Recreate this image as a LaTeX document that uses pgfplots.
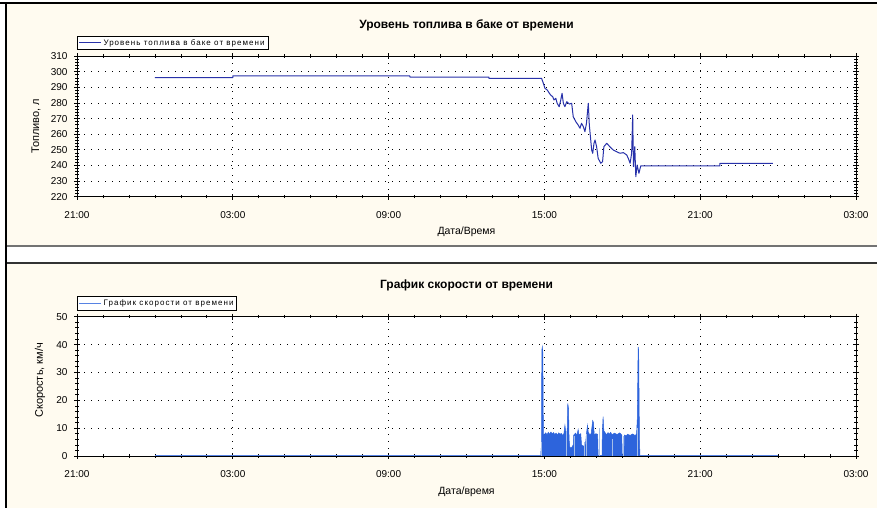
\documentclass[border=0pt]{standalone}
\usepackage{pgfplots}
\pgfplotsset{compat=1.18}
\usepackage{fontspec}
\setmainfont{Liberation Sans}
\newfontfamily\legfont[LetterSpace=13]{Liberation Sans}
\definecolor{cream}{RGB}{255,251,240}
\definecolor{fuelblue}{RGB}{40,50,170}
\definecolor{speedblue}{RGB}{45,100,220}
\definecolor{lightsp}{RGB}{165,190,232}
\pgfplotsset{chartstyle/.style={
  scale only axis, width=779pt,
  xmin=0, xmax=30, xtick={0,6,...,30},
  xticklabels={21:00,03:00,09:00,15:00,21:00,03:00},
  minor x tick num=5,
  axis background/.style={fill=white},
  grid=major,
  major grid style={black, dash pattern=on 0.8pt off 6.2pt, line width=0.7pt},
  tick align=center, major tick length=6pt, minor tick length=3.5pt,
  every tick/.style={black, line width=0.7pt},
  axis line style={black, line width=0.9pt},
  ticklabel style={font=\fontsize{10}{10}\selectfont},
  /pgf/number format/assume math mode=true,
  xticklabel shift=8pt, yticklabel shift=3pt,
  xlabel style={font=\fontsize{10.5}{12}\selectfont, at={(axis description cs:0.5,0)}, anchor=center, yshift=-35.5pt},
  ylabel style={font=\fontsize{11}{12}\selectfont, at={(axis description cs:0,0.5)}, anchor=center},
  title style={font=\bfseries\fontsize{12}{14}\selectfont, at={(axis description cs:0.5,1)}, anchor=center, yshift=25pt},
  legend style={at={(axis description cs:0,1)}, anchor=south west, yshift=6pt, draw=black, line width=0.6pt,
    font=\legfont\fontsize{8}{8}\selectfont, inner sep=1.2pt, cells={anchor=west}},
  legend image code/.code={\draw[#1] (0pt,0pt) -- (22pt,0pt);},
}}
\begin{document}
\begin{tikzpicture}[x=1pt,y=1pt]
\useasboundingbox (0pt,0pt) rectangle (877pt,508pt);
\fill[white] (0pt,0pt) rectangle (877pt,508pt);
\fill[cream] (6pt,263pt) rectangle (877pt,504pt);
\fill[cream] (6pt,0pt) rectangle (877pt,244pt);
\draw[black, line width=2.5] (0pt,505pt) -- (877pt,505pt);
\draw[black!55, line width=2] (6pt,262pt) -- (877pt,262pt);
\draw[black!80, line width=1.4] (6pt,245pt) -- (877pt,245pt);
\draw[black, line width=1.5] (6pt,0pt) -- (6pt,506pt);

\begin{axis}[chartstyle, at={(77pt,311.3pt)}, anchor=south west, height=140.6pt,
  ymin=220, ymax=310, ytick={220,230,...,310}, minor y tick num=4,
  title={Уровень топлива в баке от времени},
  xlabel={Дата/Время}, ylabel={Топливо, л},
  ylabel style={yshift=41pt}]
\addplot[fuelblue, line width=1pt, line join=round] coordinates {
(3.0,296.2) (6.0,296.2) (6.0,297.3) (12.82,297.3) (12.82,296.6) (15.86,296.6) (15.86,295.8)
(17.89,295.8) (17.96,292.6) (18.02,289.4) (18.11,288.3) (18.19,286.2) (18.24,285.1) (18.32,284.0)
(18.37,281.9) (18.44,283.0) (18.49,279.8) (18.57,277.6) (18.63,281.9) (18.68,286.2) (18.73,279.8)
(18.79,277.6) (18.86,280.8) (18.96,279.3) (19.05,279.8) (19.11,271.2) (19.21,268.0) (19.30,265.9)
(19.37,263.8) (19.43,267.0) (19.50,264.8) (19.56,261.6) (19.62,267.0) (19.69,279.8) (19.73,265.9)
(19.82,249.9) (19.86,247.8) (19.91,254.2) (19.95,256.3) (20.01,252.0) (20.07,244.6) (20.17,241.4)
(20.24,242.4) (20.29,252.0) (20.40,254.2) (20.52,252.0) (20.65,249.9) (20.78,248.8) (20.91,247.8)
(21.04,248.2) (21.17,246.7) (21.23,244.6) (21.30,241.4) (21.36,247.8) (21.40,272.3) (21.43,239.2)
(21.48,252.0) (21.52,232.8) (21.57,240.3) (21.64,235.0) (21.71,239.7) (24.76,239.7) (24.76,241.4)
(26.8,241.4)};
\addlegendentry{Уровень топлива в баке от времени}
\end{axis}

\begin{axis}[chartstyle, at={(77pt,52pt)}, anchor=south west, height=139.3pt,
  ymin=0, ymax=50, ytick={0,10,...,50}, minor y tick num=4,
  title={График скорости от времени},
  xlabel={Дата/время}, ylabel={Скорость, км/ч},
  ylabel style={yshift=37pt, xshift=6pt}]
\addplot[speedblue!80, line width=1.2pt] coordinates {(3,0) (26.99,0)};
\addlegendentry{График скорости от времени}
\addplot[draw=speedblue, fill=speedblue, line width=0.5pt, forget plot] coordinates {
(17.86,0) (17.87,2) (17.89,4) (17.90,38) (17.92,39.2) (17.94,37) (17.96,8) (17.98,7.5) (18.05,8.3)
(18.1,7.6) (18.15,8.5) (18.2,7.8) (18.25,8.6) (18.3,7.9) (18.35,8.4) (18.4,7.7) (18.45,8.2) (18.5,7.5)
(18.55,8.3) (18.6,7.8) (18.65,8.1) (18.7,7.4) (18.75,8.0) (18.79,11) (18.81,9.5) (18.86,7) (18.88,10)
(18.90,18.9) (18.93,17) (18.95,6) (18.98,3) (19.05,3) (19.11,4) (19.13,7.5) (19.2,8.2) (19.25,7.4)
(19.3,9.5) (19.33,7.5) (19.4,8) (19.43,4) (19.5,3.5) (19.58,4) (19.62,8.0) (19.66,11) (19.69,8.5)
(19.75,7.6) (19.8,8.0) (19.86,12.7) (19.89,12) (19.92,7.5) (19.98,8) (20.05,7.8) (20.07,0) (20.22,0)
(20.23,8) (20.26,14.1) (20.29,9) (20.35,8.2) (20.4,7.6) (20.45,8.4) (20.5,7.8) (20.55,8.5) (20.6,7.6)
(20.7,8.2) (20.8,7.7) (20.9,8.3) (20.98,7.5) (21.0,0) (21.07,0) (21.08,7.5) (21.15,7.2) (21.2,7.8)
(21.3,7.4) (21.4,7.9) (21.5,7.3) (21.55,8) (21.58,14) (21.61,39.2) (21.63,38) (21.66,6) (21.68,0)} \closedcycle;
\addplot[lightsp, ycomb, line width=1pt, forget plot] coordinates {
(17.88,5) (18.84,9) (19.16,7) (19.55,5) (19.64,8) (20.13,10) (20.62,6) (21.05,7) (21.59,10)};
\end{axis}
\end{tikzpicture}
\end{document}
